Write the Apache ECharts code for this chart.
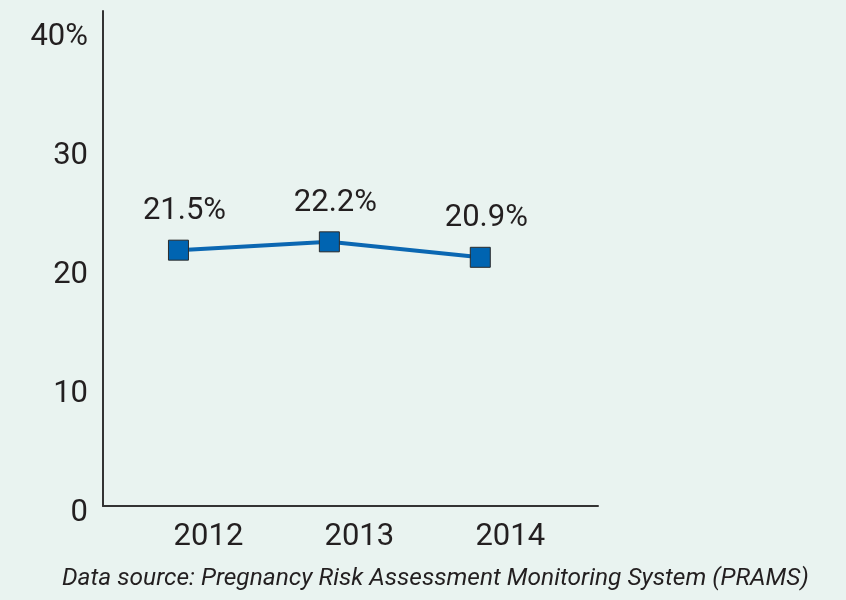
<!DOCTYPE html>
<html>
<head>
<meta charset="utf-8">
<script src="https://cdn.jsdelivr.net/npm/echarts@6/dist/echarts.min.js"></script>
<style>
  html, body { margin: 0; padding: 0; background: #e9f3f0; }
  #chart { width: 846px; height: 600px; }
</style>
</head>
<body>
<div id="chart"></div>
<script>
// Years shown on the x axis and the yearly percentages
const years = [2012, 2013, 2014];
const percents = [21.5, 22.2, 20.9];
const yTicks = [0, 10, 20, 30, 40];
const sourceNote = 'Data source: Pregnancy Risk Assessment Monitoring System (PRAMS)';

const textColor = '#231f20';
const fontFamily = 'Roboto, "Liberation Sans", sans-serif';

const chart = echarts.init(document.getElementById('chart'));
chart.setOption({
  backgroundColor: '#e9f3f0',
  animation: false,
  grid: { left: 103, right: 248, top: 11, bottom: 94, containLabel: false },
  xAxis: {
    type: 'value',
    min: 2011.5,
    max: 2014.78,
    axisLine: { show: true, lineStyle: { color: '#333', width: 2 } },
    axisTick: { show: false },
    splitLine: { show: false },
    axisLabel: {
      customValues: years,
      formatter: v => String(v),
      color: textColor,
      fontSize: 31,
      fontFamily: fontFamily,
      margin: 16,
      padding: [0, 0, 0, 60]
    }
  },
  yAxis: {
    type: 'value',
    min: 0,
    max: 41.6,
    axisLine: { show: true, lineStyle: { color: '#333', width: 2 } },
    axisTick: { show: false },
    splitLine: { show: false },
    axisLabel: {
      customValues: yTicks,
      formatter: v => '{t|' + (v === 40 ? '40%' : String(v)) + '}',
      margin: 15,
      rich: {
        t: {
          color: textColor,
          fontSize: 31,
          fontFamily: fontFamily,
          padding: [14, 0, 0, 0]
        }
      }
    }
  },
  series: [{
    type: 'line',
    data: years.map((y, i) => [y, percents[i]]),
    symbol: 'rect',
    symbolSize: 20,
    lineStyle: { color: '#0b67b2', width: 4 },
    itemStyle: { color: '#0064b1', borderColor: '#2b2b2b', borderWidth: 1 },
    label: {
      show: true,
      position: 'top',
      distance: 13,
      offset: [6, 0],
      formatter: p => p.value[1].toFixed(1) + '%',
      color: textColor,
      fontSize: 31,
      fontFamily: fontFamily
    }
  }],
  graphic: [{
    type: 'text',
    left: 62,
    top: 566,
    style: {
      text: sourceNote,
      fill: textColor,
      font: 'italic 24.5px Roboto, "Liberation Sans", sans-serif'
    }
  }]
});
</script>
</body>
</html>
